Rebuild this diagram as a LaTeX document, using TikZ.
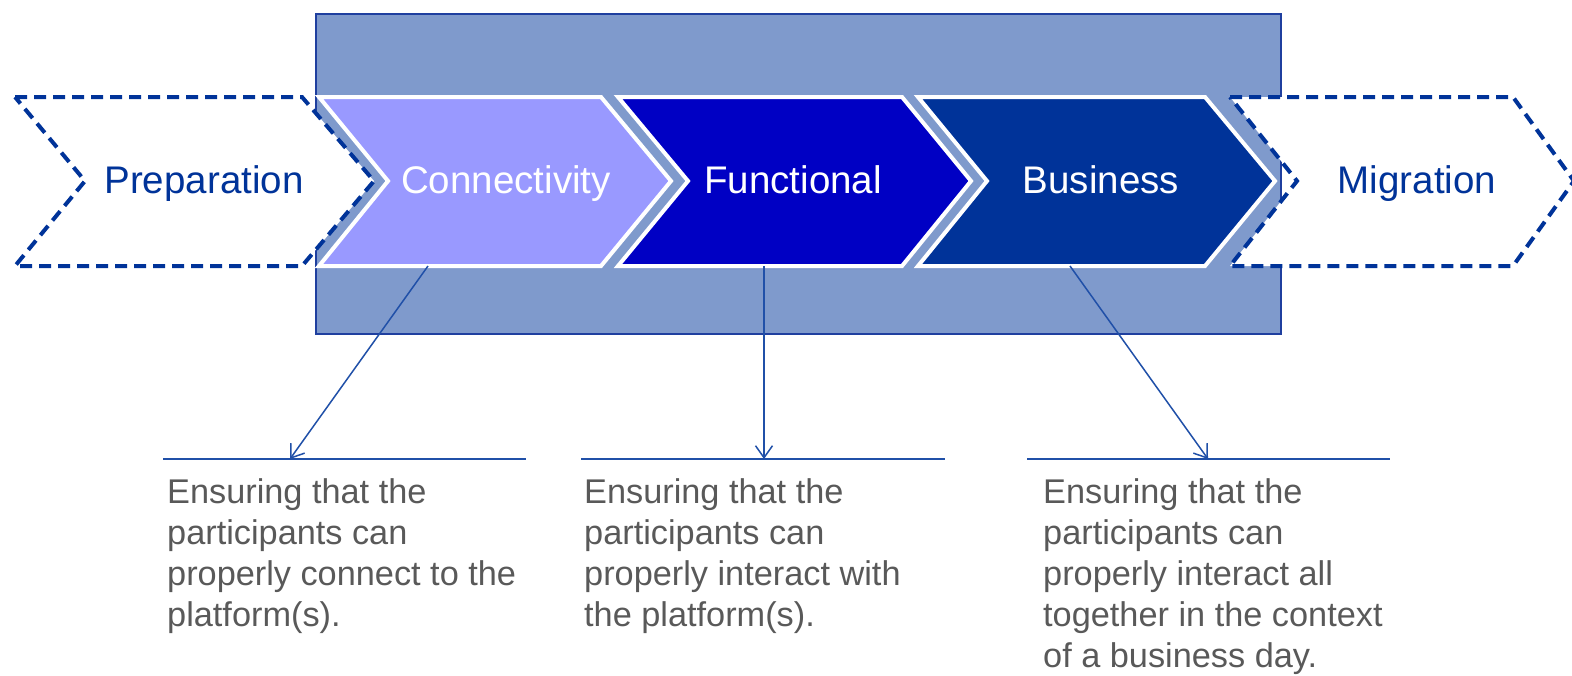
\documentclass[tikz,border=0pt]{standalone}
\usepackage{fontspec}
\setmainfont{Liberation Sans}
\usetikzlibrary{arrows.meta}
\definecolor{bgblue}{HTML}{7F9ACC}
\definecolor{bgedge}{HTML}{1F3F9F}
\definecolor{connfill}{HTML}{9999FF}
\definecolor{funcfill}{HTML}{0000C4}
\definecolor{busfill}{HTML}{003399}
\definecolor{dashblue}{HTML}{003399}
\definecolor{linkblue}{HTML}{2050A8}
\definecolor{desc}{HTML}{595959}
\tikzset{
  dashchev/.style={draw=dashblue, fill=white, line width=4pt, dash pattern=on 12pt off 7pt, line join=miter},
  solidchev/.style={draw=white, line width=4pt, line join=miter},
  chevtext/.style={anchor=base, inner sep=0pt, font=\fontsize{38.5}{46}\selectfont},
  desctext/.style={anchor=north west, inner sep=0pt, align=left, text=desc, font=\fontsize{34.3}{41}\selectfont},
  rule/.style={draw=linkblue, line width=2pt},
  link/.style={draw=linkblue, line width=1.5pt, -{Straight Barb[length=12pt,width=17pt,line width=1.5pt]}}
}
\begin{document}
\begin{tikzpicture}[x=1pt,y=-1pt]
\useasboundingbox (0,0) rectangle (1572,675);
% background band
\draw[fill=bgblue, draw=bgedge, line width=1.5pt] (316,14) rectangle (1281,334);
% dashed chevrons
\draw[dashchev] (15,97) -- (302,97) -- (374,181) -- (302,266) -- (15,266) -- (85,181) -- cycle;
\draw[dashchev] (1230,97) -- (1513,97) -- (1574,181) -- (1513,266) -- (1230,266) -- (1297,181) -- cycle;
% solid chevrons
\draw[solidchev, fill=connfill] (319,97) -- (601,97) -- (671,181) -- (601,266) -- (319,266) -- (388,181) -- cycle;
\draw[solidchev, fill=funcfill] (618,97) -- (902,97) -- (971,181) -- (902,266) -- (618,266) -- (688,181) -- cycle;
\draw[solidchev, fill=busfill] (918,97) -- (1205,97) -- (1275,181) -- (1205,266) -- (918,266) -- (987,181) -- cycle;
% chevron labels
\node[chevtext, text=dashblue] (prep) at (204,193) {Preparation};
\node[chevtext, text=white] (conn) at (506,193) {Connectivity};
\node[chevtext, text=white] (func) at (793,193) {Functional};
\node[chevtext, text=white] (bus) at (1101,193) {Business};
\node[chevtext, text=dashblue] (mig) at (1417,193) {Migration};
% rules under
\coordinate (r1a) at (163,459); \coordinate (r1b) at (526,459);
\coordinate (r2a) at (581,459); \coordinate (r2b) at (945,459);
\coordinate (r3a) at (1027,459); \coordinate (r3b) at (1390,459);
\draw[rule] (r1a) -- (r1b);
\draw[rule] (r2a) -- (r2b);
\draw[rule] (r3a) -- (r3b);
% arrows
\coordinate (a1s) at (428,266); \coordinate (a1e) at (290,459);
\coordinate (a2s) at (764,266); \coordinate (a2e) at (764,459);
\coordinate (a3s) at (1070,266); \coordinate (a3e) at (1208,459);
\draw[link] (a1s) -- (a1e);
\draw[link] (a2s) -- (a2e);
\draw[link] (a3s) -- (a3e);
% descriptions
\node[desctext] (d1) at (167,478) {Ensuring that the\\participants can\\properly connect to the\\platform(s).};
\node[desctext] (d2) at (584,478) {Ensuring that the\\participants can\\properly interact with\\the platform(s).};
\node[desctext] (d3) at (1043,478) {Ensuring that the\\participants can\\properly interact all\\together in the context\\of a business day.};
\end{tikzpicture}
\end{document}
